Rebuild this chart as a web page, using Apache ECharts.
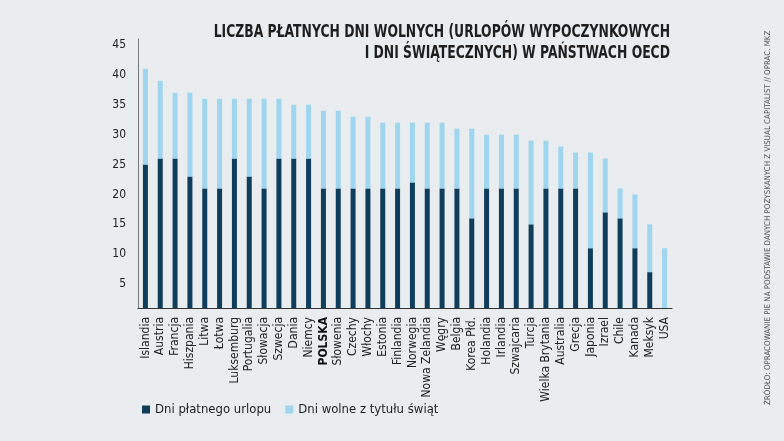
<!DOCTYPE html>
<html>
<head>
<meta charset="utf-8">
<script src="https://cdn.jsdelivr.net/npm/echarts@6/dist/echarts.min.js"></script>
<style>
    html, body { margin: 0; padding: 0; background: #e9edef; }
    #canvasContainer { width: 784px; height: 441px; }
</style>
</head>
<body>
<div id="canvasContainer"></div>
<script>
var kraje = ['Islandia', 'Austria', 'Francja', 'Hiszpania', 'Litwa', 'Łotwa', 'Luksemburg', 'Portugalia', 'Słowacja',
    'Szwecja', 'Dania', 'Niemcy', 'POLSKA', 'Słowenia', 'Czechy', 'Włochy', 'Estonia', 'Finlandia',
    'Norwegia', 'Nowa Zelandia', 'Węgry', 'Belgia', 'Korea Płd.', 'Holandia', 'Irlandia', 'Szwajcaria', 'Turcja',
    'Wielka Brytania', 'Australia', 'Grecja', 'Japonia', 'Izrael', 'Chile', 'Kanada', 'Meksyk', 'USA'];
// dni platnego urlopu
var urlop = [24, 25, 25, 22, 20, 20, 25, 22, 20, 25, 25, 25, 20, 20, 20, 20, 20, 20,
    21, 20, 20, 20, 15, 20, 20, 20, 14, 20, 20, 20, 10, 16, 15, 10, 6, 0];
// lacznie dni wolnych (urlop + swieta)
var suma = [40, 38, 36, 36, 35, 35, 35, 35, 35, 35, 34, 34, 33, 33, 32, 32, 31, 31,
    31, 31, 31, 30, 30, 29, 29, 29, 28, 28, 27, 26, 26, 25, 20, 19, 14, 10];
var swieta = [];
for (var i = 0; i < suma.length; i++) {
    swieta.push(suma[i] - urlop[i]);
}
var yTicks = [5, 10, 15, 20, 25, 30, 35, 40, 45];

var font = '"Liberation Sans Narrow", "DejaVu Sans Condensed", sans-serif';
var chart = echarts.init(document.getElementById("canvasContainer"));
var option = {
    backgroundColor: '#e9edef',
    textStyle: { fontFamily: font },
    color: ['#0f3d5c', '#a0d5f0'],
    legend: {
        left: 137,
        top: 398,
        icon: 'rect',
        itemWidth: 8,
        itemHeight: 8,
        itemGap: 14,
        textStyle: { fontFamily: font, fontSize: 13, color: '#1e1e1e' },
        data: ['Dni płatnego urlopu', 'Dni wolne z tytułu świąt']
    },
    grid: {
        left: 138,
        right: 112,
        top: 39,
        bottom: 133
    },
    xAxis: {
        type: 'category',
        data: kraje,
        axisLine: { lineStyle: { color: '#333', width: 1 } },
        axisTick: { show: false },
        axisLabel: {
            interval: 0,
            rotate: 90,
            margin: 9,
            fontFamily: font,
            fontSize: 12,
            color: '#222',
            formatter: function (v) {
                return v === 'POLSKA' ? '{b|' + v + '}' : v;
            },
            rich: {
                b: { fontFamily: font, fontSize: 12, fontWeight: 'bold', color: '#111' }
            }
        }
    },
    yAxis: {
        type: 'value',
        min: 0,
        max: 45,
        interval: 5,
        axisLine: { show: true, lineStyle: { color: '#777', width: 1 } },
        axisTick: { show: false },
        splitLine: { show: false },
        axisLabel: {
            margin: 12,
            verticalAlign: 'top',
            fontFamily: font,
            fontSize: 12,
            color: '#222',
            formatter: function (v) {
                return yTicks.indexOf(v) >= 0 ? String(v) : '';
            }
        }
    },
    series: [
        {
            name: 'Dni płatnego urlopu',
            type: 'bar',
            stack: 'dni',
            barWidth: 5,
            data: urlop
        },
        {
            name: 'Dni wolne z tytułu świąt',
            type: 'bar',
            stack: 'dni',
            barWidth: 5,
            data: swieta
        }
    ],
    graphic: [
        {
            type: 'text',
            x: 670,
            y: 22,
            scaleX: 0.81,
            style: {
                text: 'LICZBA PŁATNYCH DNI WOLNYCH (URLOPÓW WYPOCZYNKOWYCH\nI DNI ŚWIĄTECZNYCH) W PAŃSTWACH OECD',
                fontFamily: font,
                fontSize: 17,
                fontWeight: 'bold',
                lineHeight: 21,
                fill: '#1e1e1e',
                align: 'right',
                verticalAlign: 'top'
            }
        },
        {
            type: 'text',
            x: 768,
            y: 405,
            rotation: Math.PI / 2,
            style: {
                text: 'ŹRÓDŁO: OPRACOWANIE PIE NA PODSTAWIE DANYCH POZYSKANYCH Z VISUAL CAPITALIST // OPRAC. MKZ',
                fontFamily: font,
                fontSize: 7.9,
                fill: '#555',
                verticalAlign: 'middle',
                align: 'left'
            }
        }
    ]
};
chart.setOption(option);
</script>
</body>
</html>
